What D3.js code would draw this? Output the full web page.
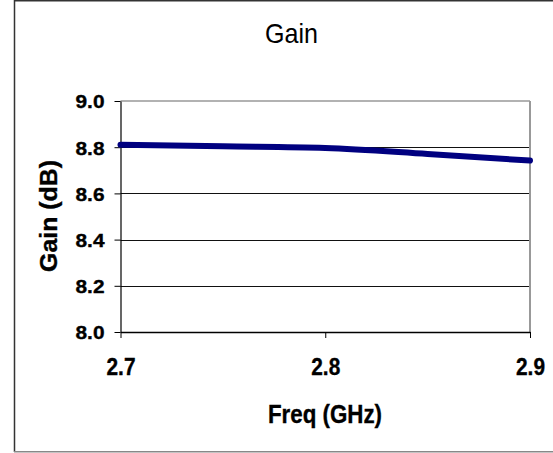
<!DOCTYPE html>
<html lang="en">
<head>
    <meta charset="UTF-8">
    <title>Gain</title>
    <script src="https://d3js.org/d3.v7.min.js"></script>
    <style>
        body {
            margin: 0;
            background: #ffffff;
            font-family: 'Liberation Sans', Arial, sans-serif;
        }
        svg { display: block; }
        .tick-label { font-weight: bold; fill: #000; stroke: #000; stroke-width: 0.35px; }
        .axis-title { font-weight: bold; fill: #000; stroke: #000; stroke-width: 0.35px; }
    </style>
</head>
<body>
    <svg width="553" height="453"></svg>

    <script>
        // Data
        const freqs = [2.7, 2.75, 2.8, 2.85, 2.9];
        const gains = [8.811, 8.804, 8.797, 8.771, 8.742];
        const yTicks = [8.0, 8.2, 8.4, 8.6, 8.8, 9.0];
        const xTicks = [2.7, 2.8, 2.9];

        const width = 553;
        const height = 453;
        const plot = { left: 120.5, right: 530, top: 101, bottom: 332 };

        const svg = d3.select("svg");

        // outer chart border
        svg.append("line").attr("x1", 14.5).attr("x2", 14.5).attr("y1", 0).attr("y2", 452)
            .attr("stroke", "#333").attr("stroke-width", 1.5);
        svg.append("line").attr("x1", 14).attr("x2", width).attr("y1", 0.75).attr("y2", 0.75)
            .attr("stroke", "#333").attr("stroke-width", 1.5);
        svg.append("line").attr("x1", 14).attr("x2", width).attr("y1", 451.75).attr("y2", 451.75)
            .attr("stroke", "#888").attr("stroke-width", 1.5);

        const x = d3.scaleLinear().domain([2.7, 2.9]).range([plot.left, plot.right]);
        const y = d3.scaleLinear().domain([8.0, 9.0]).range([plot.bottom, plot.top]);

        // gridlines
        svg.selectAll(".grid")
            .data(yTicks.filter(d => d > 8.0 && d < 9.0))
            .enter()
            .append("line")
            .attr("class", "grid")
            .attr("x1", plot.left)
            .attr("x2", plot.right)
            .attr("y1", d => Math.round(y(d)) + 0.5)
            .attr("y2", d => Math.round(y(d)) + 0.5)
            .attr("stroke", "#111")
            .attr("stroke-width", 1);

        // top and right plot border (gray)
        svg.append("line").attr("x1", plot.left).attr("x2", plot.right)
            .attr("y1", plot.top).attr("y2", plot.top)
            .attr("stroke", "#999").attr("stroke-width", 1.5);
        svg.append("line").attr("x1", plot.right).attr("x2", plot.right)
            .attr("y1", plot.top).attr("y2", plot.bottom)
            .attr("stroke", "#999").attr("stroke-width", 2);

        // y axis
        const yAxis = svg.append("g")
            .attr("transform", `translate(${plot.left},0)`)
            .call(d3.axisLeft(y).tickValues(yTicks).tickSize(6).tickSizeOuter(0).tickFormat(d3.format(".1f")));
        yAxis.select(".domain").attr("stroke", "#000").attr("stroke-width", 1.2);
        yAxis.selectAll(".tick line").attr("stroke", "#000");
        yAxis.selectAll(".tick text")
            .attr("class", "tick-label")
            .attr("x", -16)
            .attr("dy", "0.36em")
            .attr("textLength", 29)
            .attr("lengthAdjust", "spacingAndGlyphs")
            .style("font-size", "19px")
            .style("font-family", "'Liberation Sans', Arial, sans-serif");

        // x axis
        const xAxis = svg.append("g")
            .attr("transform", `translate(0,${plot.bottom})`)
            .call(d3.axisBottom(x).tickValues(xTicks).tickSize(6).tickSizeOuter(0).tickFormat(d3.format(".1f")));
        xAxis.select(".domain").attr("stroke", "#000").attr("stroke-width", 1.5);
        xAxis.selectAll(".tick line").attr("stroke", "#000");
        xAxis.selectAll(".tick text")
            .attr("class", "tick-label")
            .attr("y", 43)
            .attr("dy", 0)
            .attr("textLength", 29)
            .attr("lengthAdjust", "spacingAndGlyphs")
            .style("font-size", "23px")
            .style("font-family", "'Liberation Sans', Arial, sans-serif");

        // series line
        const line = d3.line()
            .x((d, i) => x(freqs[i]))
            .y(d => y(d))
            .curve(d3.curveMonotoneX);

        svg.append("path")
            .datum(gains)
            .attr("d", line)
            .attr("fill", "none")
            .attr("stroke", "#000080")
            .attr("stroke-width", 6)
            .attr("stroke-linecap", "round")
            .attr("stroke-linejoin", "round");

        // titles
        svg.append("text")
            .attr("x", 291.5)
            .attr("y", 43)
            .attr("text-anchor", "middle")
            .attr("textLength", 53)
            .attr("lengthAdjust", "spacingAndGlyphs")
            .style("font-size", "28px")
            .text("Gain");

        svg.append("text")
            .attr("class", "axis-title")
            .attr("x", 325)
            .attr("y", 423)
            .attr("text-anchor", "middle")
            .attr("textLength", 114)
            .attr("lengthAdjust", "spacingAndGlyphs")
            .style("font-size", "25px")
            .text("Freq (GHz)");

        svg.append("text")
            .attr("class", "axis-title")
            .attr("transform", "translate(57,216) rotate(-90)")
            .attr("text-anchor", "middle")
            .attr("textLength", 112)
            .attr("lengthAdjust", "spacingAndGlyphs")
            .style("font-size", "23px")
            .text("Gain (dB)");
    </script>
</body>
</html>
